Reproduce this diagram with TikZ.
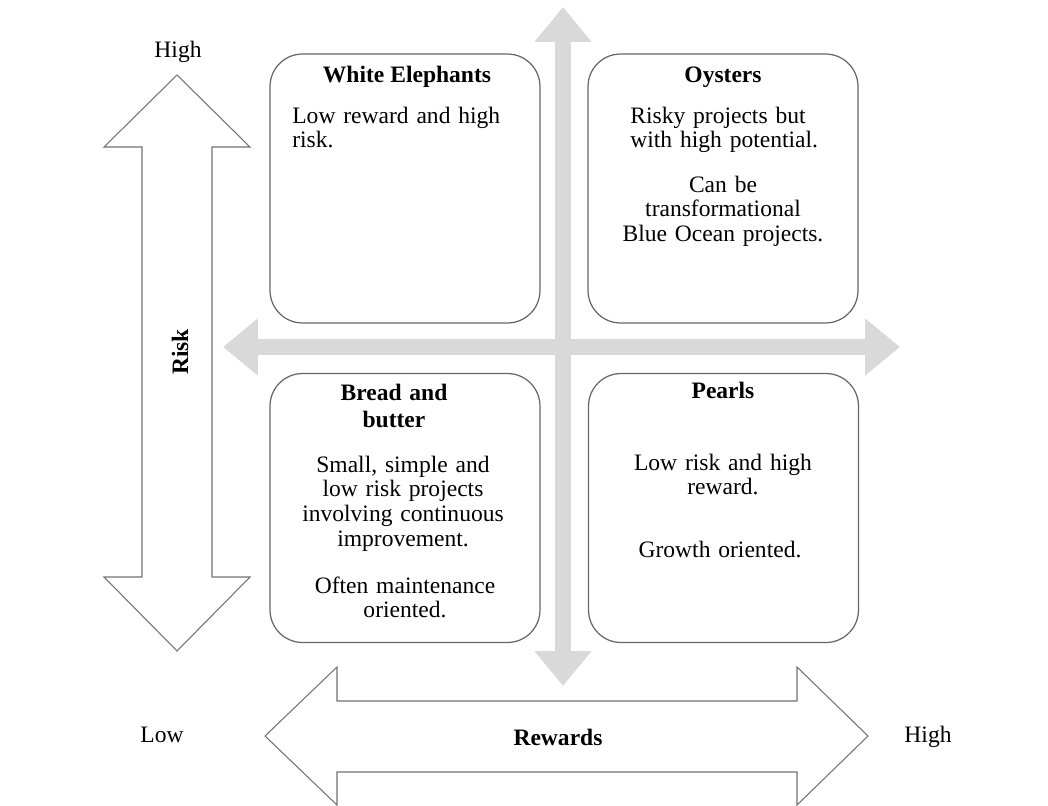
\documentclass[tikz,border=0pt]{standalone}
\usepackage{fontspec}
\setmainfont{Liberation Serif}
\usetikzlibrary{arrows.meta}

\begin{document}
\begin{tikzpicture}[
      x=0.02cm, y=-0.02cm,
      quad/.style={draw=black!60, line width=0.7pt, rounded corners=0.65cm, minimum width=5.4cm, minimum height=5.38cm, inner sep=0pt},
      title/.style={font=\fontsize{13.4}{14.2}\selectfont\bfseries, anchor=base, inner sep=0pt},
      body/.style={font=\fontsize{13.4}{14.2}\selectfont, anchor=base, inner sep=0pt, text width=#1, align=center},
      body/.default=4.6cm,
      axis/.style={font=\fontsize{13.4}{14.2}\selectfont, anchor=base, inner sep=0pt},
      outline/.style={draw=black!55, line width=0.6pt, fill=white},
      cross/.style={draw=black!15, line width=0.32cm, {Triangle[length=0.7cm, width=1.1cm]}-{Triangle[length=0.7cm, width=1.1cm]}}
  ]
      \useasboundingbox (0,0) rectangle (1048,805);

      % Grey cross
      \coordinate (up)    at (563,7);
      \coordinate (down)  at (563,686);
      \coordinate (left)  at (223,347);
      \coordinate (right) at (900,347);
      \draw[cross] (up) -- (down);
      \draw[cross] (left) -- (right);

      % Quadrants
      \node[quad] (tl) at (405,188.5) {};
      \node[quad] (tr) at (723,188.5) {};
      \node[quad] (bl) at (405,508)   {};
      \node[quad] (br) at (723.5,508) {};

      \node[title] (tlt) at (407,82) {White Elephants};
      \node[body=4.6cm, anchor=base west, align=left] (tlb) at (292,123) {Low reward and high\\risk.};

      \node[title] (trt) at (723,82) {Oysters};
      \node[body=4.6cm, anchor=base west, align=left] (trb) at (630,123) {Risky projects but\\with high potential.};
      \node[body] (trc) at (723,192) {Can be\\transformational\\Blue Ocean projects.};

      \node[title, text width=3cm, align=center] (blt) at (394,400) {Bread and\\[1.7pt]butter};
      \node[body] (blb) at (403,472) {Small, simple and\\low risk projects\\involving continuous\\improvement.};
      \node[body] (blc) at (405,593) {Often maintenance\\oriented.};

      \node[title] (brt) at (723,398) {Pearls};
      \node[body] (brb) at (723,470) {Low risk and high\\reward.};
      \node[body] (brc) at (720,557) {Growth oriented.};

      % Risk axis
      \draw[outline] (177,75) -- (250,147) -- (212,147) -- (212,577) -- (250,577) -- (177,651)
          -- (104,577) -- (142,577) -- (142,147) -- (104,147) -- cycle;
      \node[axis] (rhigh) at (178,57) {High};
      \node[font=\fontsize{13.4}{14.2}\selectfont\bfseries, rotate=90] (risk) at (180,352) {Risk};

      % Rewards axis
      \draw[outline] (265,736) -- (337,667) -- (337,701) -- (797,701) -- (797,667) -- (868,736)
          -- (797,805) -- (797,772) -- (337,772) -- (337,805) -- cycle;
      \node[axis] (wlow) at (162,742) {Low};
      \node[axis] (whigh) at (928,742) {High};
      \node[title] (rewards) at (558,745) {Rewards};
  \end{tikzpicture}
\end{document}
